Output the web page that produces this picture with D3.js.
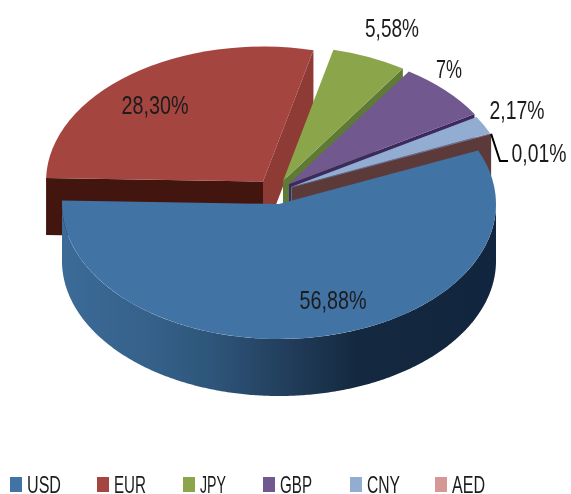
<!DOCTYPE html>
<html>

<head>
  <meta charset="utf-8">
  <title>Currencies</title>
  <style>
    html, body { margin: 0; padding: 0; background: #fff; }
    svg { display: block; filter: blur(0.5px); }
    text { font-family: "Liberation Sans", sans-serif; fill: #1c1c1c; }
  </style>
</head>

<body>
  <svg class="pie" width="571" height="494" viewBox="0 0 571 494"></svg>

  <script src="https://d3js.org/d3.v7.min.js"></script>
  <script>
    var categories = ['USD', 'EUR', 'JPY', 'GBP', 'CNY', 'AED'];
    var shares = [56.88, 28.30, 5.58, 7, 2.17, 0.01];
    var shareLabels = ['56,88%', '28,30%', '5,58%', '7%', '2,17%', '0,01%'];

    // face colour, then the colour of the cut walls (start edge, end edge)
    var faceColors = ['#4273a5', '#a44540', '#8aa54a', '#71588f', '#92acd2', '#d69896'];
    var startWallColors = ['#2c5079', '#43150f', '#5f7a35', '#3d2a5c', '#5a6f92', '#5d3a3a'];
    var endWallColors = ['#2c5079', '#8e3a35', '#5f7a35', '#3d2a5c', '#5a6f92', '#5d3a3a'];

    // layout: pie centre of each exploded slice, label centres and widths, legend columns
    var sliceCentres = [[279, 204], [263, 181.5], [283, 181], [289, 184], [291, 187], [292, 187.5]];
    var labelCentres = [[333, 300], [155, 105], [392, 28], [449, 69], [517, 110], [539, 153]];
    var labelWidths = [67, 67, 54, 26, 55, 55];
    var legendX = [10, 97, 183, 263, 350, 435];
    var legendWidths = [34, 32, 26, 32, 33, 33];

    var rx = 217;
    var ry = 135;
    var depth = 57;
    var firstAngle = 66.6 * Math.PI / 180;

    var svg = d3.select('svg.pie');

    var pie = d3.pie().sort(null)
      .startAngle(firstAngle)
      .endAngle(firstAngle + 2 * Math.PI);
    var slices = pie(shares);

    var faceArc = d3.arc().innerRadius(0).outerRadius(rx);

    function rimPoint(centre, angle) {
      return [centre[0] + rx * Math.sin(angle), centre[1] - ry * Math.cos(angle)];
    }

    // side of the disc, shaded left to right
    var sideGradient = svg.append('defs').append('linearGradient')
      .attr('id', 'side-usd')
      .attr('gradientUnits', 'userSpaceOnUse')
      .attr('x1', 62).attr('x2', 496).attr('y1', 0).attr('y2', 0);
    [[0, '#3c6b98'], [0.2, '#35618a'], [0.35, '#2e5579'], [0.5, '#23405f'], [0.68, '#14293f'], [1, '#11263e']]
      .forEach(function(stop) {
        sideGradient.append('stop').attr('offset', stop[0]).attr('stop-color', stop[1]);
      });

    function drawWall(group, centre, angle, color) {
      var p = rimPoint(centre, angle);
      var path = d3.path();
      path.moveTo(centre[0], centre[1]);
      path.lineTo(p[0], p[1]);
      path.lineTo(p[0], p[1] + depth);
      path.lineTo(centre[0], centre[1] + depth);
      path.closePath();
      group.append('path').attr('d', path.toString()).attr('fill', color);
    }

    function drawOuterWall(group, centre, a0, a1, fill) {
      var from = Math.max(a0, Math.PI / 2);
      var to = Math.min(a1, 3 * Math.PI / 2);
      if (to <= from) return;
      var top = d3.range(from, to, 0.01).concat([to]).map(function(a) {
        return rimPoint(centre, a);
      });
      var bottom = top.slice().reverse().map(function(p) {
        return [p[0], p[1] + depth];
      });
      group.append('path')
        .attr('d', d3.line()(top.concat(bottom)) + 'Z')
        .attr('fill', fill);
    }

    // back slices first, the big USD slice goes on top of all of them
    [1, 2, 3, 4, 5, 0].forEach(function(i) {
      var slice = slices[i];
      var centre = sliceCentres[i];
      var g = svg.append('g').attr('class', 'slice slice-' + categories[i]);

      // a cut wall only shows when it faces the viewer
      if (Math.sin(slice.startAngle) < 0) drawWall(g, centre, slice.startAngle, startWallColors[i]);
      if (Math.sin(slice.endAngle) > 0) drawWall(g, centre, slice.endAngle, endWallColors[i]);
      drawOuterWall(g, centre, slice.startAngle, slice.endAngle, 'url(#side-usd)');

      g.append('path')
        .attr('d', faceArc(slice))
        .attr('transform', 'translate(' + centre[0] + ',' + centre[1] + ') scale(1,' + (ry / rx) + ')')
        .attr('fill', faceColors[i]);
    });

    // leader for the smallest slice
    var aedIdx = categories.indexOf('AED');
    var aedRim = rimPoint(sliceCentres[aedIdx], slices[aedIdx].startAngle);
    svg.append('path')
      .attr('d', d3.line()([aedRim, [500, labelCentres[aedIdx][1] + 8], [508, labelCentres[aedIdx][1] + 8]]))
      .attr('fill', 'none')
      .attr('stroke', '#000')
      .attr('stroke-width', 2);

    // no narrow face installed, so the labels are squeezed to the reference widths
    svg.selectAll('text.share')
      .data(shareLabels)
      .enter().append('text')
      .attr('class', 'share')
      .attr('x', function(d, i) { return labelCentres[i][0] - labelWidths[i] / 2; })
      .attr('y', function(d, i) { return labelCentres[i][1] + 9; })
      .attr('textLength', function(d, i) { return labelWidths[i]; })
      .attr('lengthAdjust', 'spacingAndGlyphs')
      .attr('font-size', 25)
      .text(function(d) { return d; });

    var legend = svg.selectAll('g.legend')
      .data(categories)
      .enter().append('g')
      .attr('class', 'legend')
      .attr('transform', function(d, i) { return 'translate(' + legendX[i] + ',477)'; });

    legend.append('rect')
      .attr('width', 12)
      .attr('height', 15)
      .attr('fill', function(d, i) { return faceColors[i]; });

    legend.append('text')
      .attr('x', 17)
      .attr('y', 15.5)
      .attr('textLength', function(d, i) { return legendWidths[i]; })
      .attr('lengthAdjust', 'spacingAndGlyphs')
      .attr('font-size', 24)
      .text(function(d) { return d; });
  </script>
</body>

</html>
